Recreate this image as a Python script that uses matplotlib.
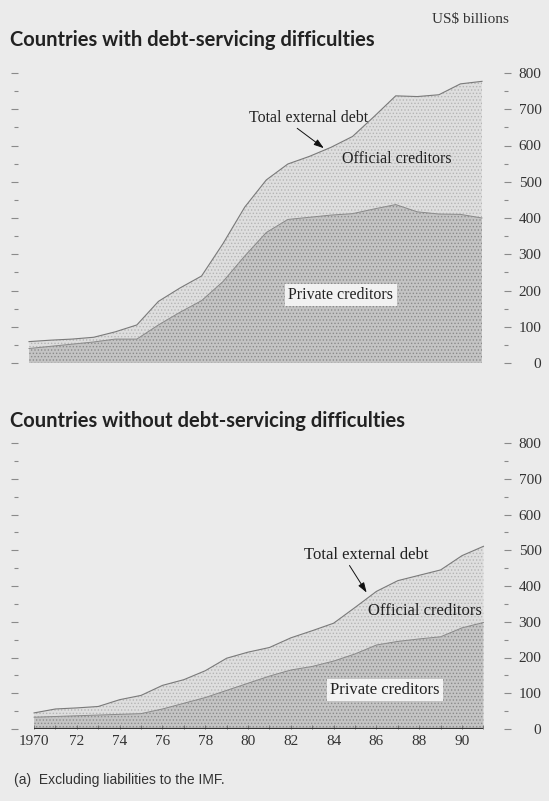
import matplotlib.pyplot as plt
import numpy as np

# ---- data (US$ billions) ----
years = list(range(1970, 1992))

# countries with debt-servicing difficulties
diff_total = [59, 63, 66, 71, 86, 105, 170, 207, 240, 330, 430, 505,
              549, 570, 595, 625, 680, 737, 735, 740, 770, 777]
diff_private = [40, 46, 52, 58, 66, 66, 105, 140, 172, 225, 295, 360,
                396, 402, 408, 412, 425, 437, 417, 411, 410, 400]

# countries without debt-servicing difficulties
nodiff_total = [45, 56, 59, 63, 82, 94, 122, 138, 163, 198, 215, 228,
                255, 275, 296, 340, 385, 415, 430, 445, 485, 511]
nodiff_private = [33, 35, 37, 39, 41, 43, 56, 72, 88, 108, 128, 148,
                  165, 175, 190, 210, 235, 245, 252, 258, 283, 298]

yticks = [0, 100, 200, 300, 400, 500, 600, 700, 800]
xtick_years = list(range(1970, 1991, 2))
xtick_labels = ['1970', '72', '74', '76', '78', '80', '82', '84', '86', '88', '90']

BG = '#ebebeb'
SERIF = ['Liberation Serif', 'DejaVu Serif']
plt.rcParams['hatch.linewidth'] = 0.6

fig = plt.figure(figsize=(5.49, 8.01), dpi=100)
fig.patch.set_facecolor(BG)


def setup(ax, xlim):
    ax.set_facecolor('none')
    ax.set_xlim(*xlim)
    ax.set_ylim(0, 800)
    for s in ax.spines.values():
        s.set_visible(False)
    ax.set_yticks(yticks)
    ax.set_yticks(np.arange(50, 800, 100), minor=True)
    ax.tick_params(axis='y', which='both', left=True, right=True,
                   labelleft=False, labelright=True, direction='out',
                   color='#8a8a8a', width=0.8)
    ax.tick_params(axis='y', which='major', length=5, pad=22,
                   labelsize=11, labelcolor='#333333')
    ax.tick_params(axis='y', which='minor', length=3)
    for lbl in ax.get_yticklabels():
        lbl.set_ha('right')
        lbl.set_family(SERIF)


def draw(ax, total, private):
    ax.fill_between(years, private, total, facecolor='#dedede',
                    edgecolor='#b4b4b4', hatch='.....', linewidth=0)
    ax.fill_between(years, 0, private, facecolor='#c4c4c4',
                    edgecolor='#8a8a8a', hatch='.....', linewidth=0)
    ax.plot(years, total, color='#7a7a7a', lw=0.8)
    ax.plot(years, private, color='#8a8a8a', lw=0.7)


# top panel
ax1 = fig.add_axes([18/549, 1-363/801, 486/549, 290/801])
setup(ax1, (1969.49, 1992.02))
draw(ax1, diff_total, diff_private)
ax1.set_xticks([])

ax1.text(1982.96, 676, 'Total external debt', ha='center', va='center',
         fontsize=11.5, family=SERIF, color='#222222')
ax1.annotate('', xy=(1983.77, 588), xytext=(1982.33, 652),
             arrowprops=dict(arrowstyle='-|>,head_length=0.6,head_width=0.2',
                             color='#111111', lw=0.7))
ax1.text(1987.06, 563, 'Official creditors', ha='center', va='center',
         fontsize=11.5, family=SERIF, color='#222222')
ax1.text(1984.46, 188, 'Private creditors', ha='center', va='center',
         fontsize=11.5, family=SERIF, color='#222222',
         bbox=dict(boxstyle='square,pad=0.2', facecolor='#f2f2f2', edgecolor='none'))

# bottom panel
ax2 = fig.add_axes([18/549, 1-729/801, 486/549, 286/801])
setup(ax2, (1969.25, 1991.96))
draw(ax2, nodiff_total, nodiff_private)
ax2.plot([years[0], years[-1]], [0, 0], color='#333333', lw=1.6, solid_capstyle='butt')
ax2.set_xticks(xtick_years)
ax2.set_xticklabels(xtick_labels, family=SERIF)
ax2.set_xticks(years, minor=True)
ax2.tick_params(axis='x', which='both', direction='in', length=3,
                color='#777777', width=0.7)
ax2.tick_params(axis='x', which='major', labelsize=11, pad=4, labelcolor='#333333')

ax2.text(1985.54, 487, 'Total external debt', ha='center', va='center',
         fontsize=12, family=SERIF, color='#222222')
ax2.annotate('', xy=(1985.61, 375), xytext=(1984.67, 464),
             arrowprops=dict(arrowstyle='-|>,head_length=0.6,head_width=0.2',
                             color='#111111', lw=0.7))
ax2.text(1988.27, 330, 'Official creditors', ha='center', va='center',
         fontsize=12, family=SERIF, color='#222222')
ax2.text(1986.4, 109, 'Private creditors', ha='center', va='center',
         fontsize=12, family=SERIF, color='#222222',
         bbox=dict(boxstyle='square,pad=0.2', facecolor='#f2f2f2', edgecolor='none'))

# titles and notes
fig.text(470/549, 1-20/801, 'US$ billions', ha='center', va='center',
         fontsize=11, family=SERIF, color='#333333')
fig.text(10/549, 1-40/801, 'Countries with debt-servicing difficulties',
         ha='left', va='center', fontsize=14.5, fontweight='bold',
         family=['Lato', 'DejaVu Sans'], color='#222222')
fig.text(10/549, 1-421/801, 'Countries without debt-servicing difficulties',
         ha='left', va='center', fontsize=14.5, fontweight='bold',
         family=['Lato', 'DejaVu Sans'], color='#222222')
fig.text(14/549, 1-780/801, '(a)  Excluding liabilities to the IMF.',
         ha='left', va='center', fontsize=10,
         family=['Liberation Sans', 'DejaVu Sans'], color='#333333')

fig.savefig('out.png', dpi=100, facecolor=fig.get_facecolor())
